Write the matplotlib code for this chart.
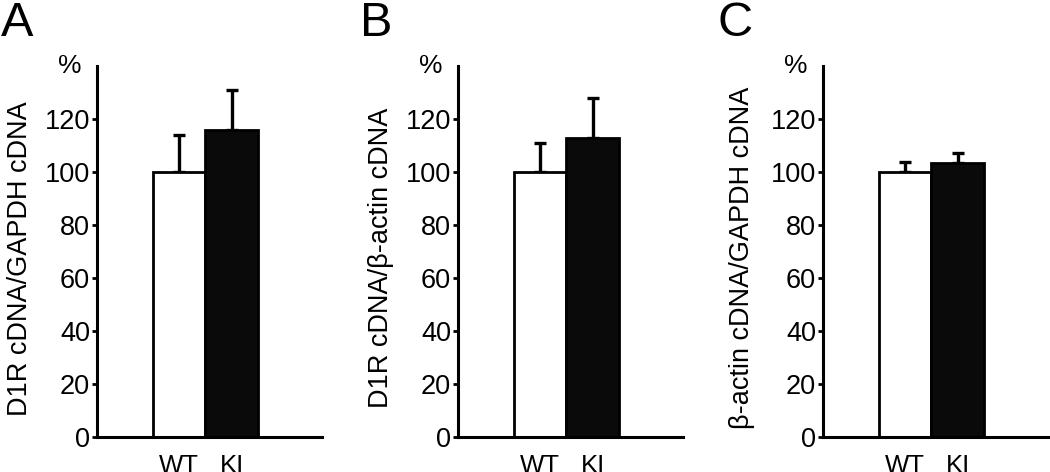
import matplotlib
matplotlib.use("Agg")
import matplotlib.pyplot as plt
import numpy as np

plt.rcParams['font.family'] = ['Liberation Sans', 'DejaVu Sans']

groups = ["WT", "KI"]
panel_letters = ["A", "B", "C"]
ylabels = ["D1R cDNA/GAPDH cDNA", "D1R cDNA/\u03b2-actin cDNA", "\u03b2-actin cDNA/GAPDH cDNA"]
means_A = [100, 116.0]
errs_A = [13.8, 14.9]
means_B = [100, 113.0]
errs_B = [10.9, 14.9]
means_C = [100, 103.3]
errs_C = [3.8, 3.7]
yticks = [0, 20, 40, 60, 80, 100, 120]

means = [means_A, means_B, means_C]
errs = [errs_A, errs_B, errs_C]

fig = plt.figure(figsize=(10.5, 4.72), dpi=100)
W, H = 1050, 472
lefts = [97, 458, 823]
ax_w = 225
top_px, bot_px = 66, 437
letter_x = [1, 360, 718]
label_x = [-0.342, -0.34, -0.36]

for i in range(3):
    ax = fig.add_axes([lefts[i] / W, 1 - bot_px / H, ax_w / W, (bot_px - top_px) / H])
    x = np.arange(len(groups))
    ax.errorbar(x, means[i], yerr=[np.zeros(len(groups)), errs[i]], fmt='none',
                ecolor='black', elinewidth=2.4, capsize=4, capthick=2.4, zorder=1)
    ax.bar(x, means[i], width=1.0, color=['white', '#0a0a0a'], edgecolor='black',
           linewidth=2.0, zorder=2)
    ax.set_xlim(-1.567, 2.72)
    ax.set_ylim(0, 140)
    ax.set_yticks(yticks)
    ax.set_yticklabels([str(t) for t in yticks], fontsize=19.5)
    ax.set_xticks(x)
    ax.set_xticklabels(groups, fontsize=18.5)
    ax.tick_params(axis='x', length=0, pad=12)
    ax.tick_params(axis='y', length=3.6, width=2.0, pad=1.5, direction='out')
    for s in ['top', 'right']:
        ax.spines[s].set_visible(False)
    for s in ['left', 'bottom']:
        ax.spines[s].set_linewidth(2.2)
    ax.set_ylabel(ylabels[i], fontsize=19.5, va='center')
    ax.yaxis.set_label_coords(label_x[i], 0.482)
    ax.annotate('%', xy=(0, 140), xycoords=('axes fraction', 'data'),
                xytext=(-11, 0), textcoords='offset points', ha='right', va='center',
                fontsize=19)
    fig.text(letter_x[i] / W, 1 - 1 / H, panel_letters[i], fontsize=35, ha='left', va='top')

fig.savefig("out.png", dpi=100)
